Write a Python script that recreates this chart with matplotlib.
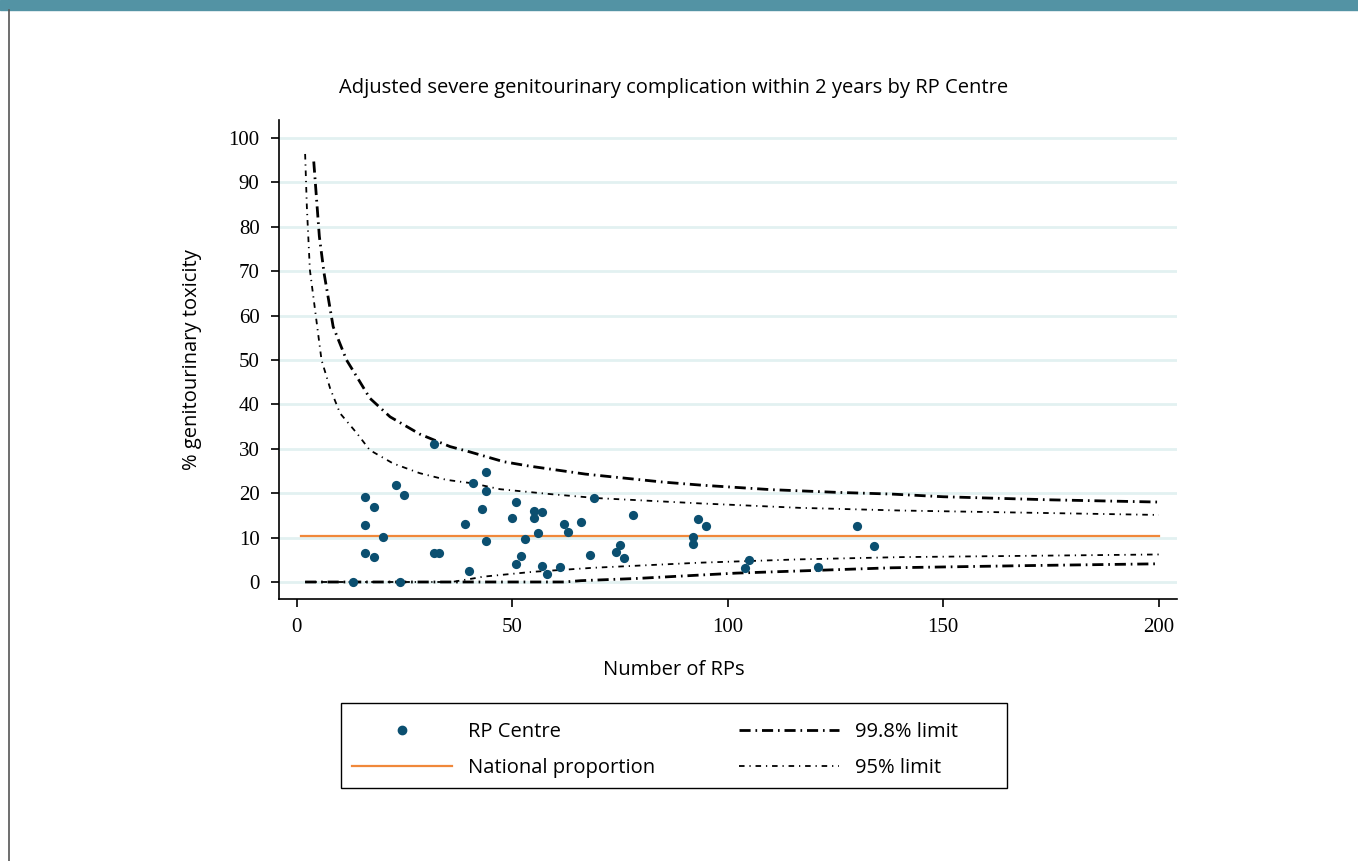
"""
Funnel plot of severe genitourinary complications by RP centre.
"""

import matplotlib.pyplot as plt
from matplotlib.lines import Line2D
from matplotlib.patches import Rectangle

# RP centres: number of RPs and adjusted % toxicity
centre_n = [13, 16, 18, 16, 20, 16, 18, 23, 25, 24, 32, 32, 33, 39, 40, 41, 43,
            44, 44, 44, 51, 50, 55, 57, 55, 56, 53, 62, 63, 66, 69, 52, 51, 57,
            58, 61, 68, 78, 93, 95, 92, 92, 75, 74, 76, 130, 134, 105, 104, 121]
centre_pct = [0, 19.1, 17.0, 12.8, 10.1, 6.5, 5.6, 21.8, 19.6, 0, 31.0, 6.5, 6.5,
              13.0, 2.5, 22.2, 16.4, 24.8, 20.5, 9.3, 18.1, 14.5, 16.1, 15.7,
              14.4, 11.0, 9.7, 13.0, 11.2, 13.4, 19.0, 5.9, 4.0, 3.6, 1.8, 3.4,
              6.1, 15.2, 14.3, 12.7, 10.2, 8.6, 8.3, 6.8, 5.3, 12.6, 8.2, 5.0,
              3.1, 3.4]

national_n = [1, 200]
national_pct = [10.4, 10.4]

# control limits
upper998_n = [4, 5.3, 6.4, 8.5, 11.6, 14, 17, 21.7, 28.6, 35.6, 40.2, 48, 54, 67,
              73, 85, 94, 110, 125, 138, 150, 175, 200]
upper998 = [94.7, 77.8, 69.5, 57.5, 50, 46.2, 41.4, 37.2, 33.3, 30.5, 29.3, 27.1,
            26.1, 24.3, 23.7, 22.5, 21.8, 20.8, 20.2, 19.8, 19.2, 18.5, 18.0]
upper95_n = [2, 2.4, 3.1, 4.3, 5.8, 7.8, 10.1, 14, 17, 22.4, 28.6, 34.8, 41,
             47.2, 58.8, 69.6, 93.6, 116.7, 139.9, 170, 200]
upper95 = [96.4, 84.5, 70.3, 61.3, 50, 43.6, 38, 33.5, 29.7, 26.7, 24.5, 23.0,
           22.2, 20.9, 19.8, 18.9, 17.7, 16.7, 16.1, 15.6, 15.1]
lower95_n = [2, 36, 41, 43.3, 54.9, 68.8, 93.6, 116.7, 139.9, 170, 200]
lower95 = [0, 0, 0.8, 1.2, 2.3, 3.2, 4.35, 5.1, 5.6, 5.9, 6.2]
lower998_n = [2, 62, 66, 79, 102, 117, 138, 170, 200]
lower998 = [0, 0, 0.3, 0.8, 2.0, 2.5, 3.2, 3.7, 4.1]

x_ticks = [0, 50, 100, 150, 200]
y_ticks = [0, 10, 20, 30, 40, 50, 60, 70, 80, 90, 100]

dot_color = "#0b4f70"
orange = "#f0883a"
grid_color = "#e2f1f1"
sans = "Open Sans"
serif = "Liberation Serif"
fs = 14.5

dash998 = (8, 3.5, 1.2, 3.5)
dash95 = (4, 3.5, 0.9, 3.5)

plt.rcParams["lines.scale_dashes"] = False

fig = plt.figure(figsize=(13.58, 8.61), dpi=100)

# page decorations
fig.patches.append(Rectangle((0, 1 - 10 / 861), 1, 10 / 861, transform=fig.transFigure,
                             color="#5393a4", zorder=0))
fig.lines.append(Line2D([9 / 1358, 9 / 1358], [0, 1 - 10 / 861], transform=fig.transFigure,
                        color="#555555", lw=1.2))

ax = fig.add_axes([279 / 1358, 1 - 599 / 861, 898 / 1358, 479 / 861])
ax.set_xlim(-4.06, 204.2)
ax.set_ylim(-3.83, 104.05)

for y in y_ticks:
    ax.axhline(y, color=grid_color, lw=2, zorder=0)

ax.plot(upper998_n, upper998, color="black", lw=2.0, dashes=dash998)
ax.plot(lower998_n, lower998, color="black", lw=2.0, dashes=dash998)
ax.plot(upper95_n, upper95, color="black", lw=1.3, dashes=dash95)
ax.plot(lower95_n, lower95, color="black", lw=1.3, dashes=dash95)
ax.plot(national_n, national_pct, color=orange, lw=1.6, zorder=3)
ax.scatter(centre_n, centre_pct, s=44, color=dot_color, zorder=4, linewidths=0)

for side in ["top", "right"]:
    ax.spines[side].set_visible(False)
for side in ["left", "bottom"]:
    ax.spines[side].set_linewidth(1.2)

ax.set_xticks(x_ticks)
ax.set_yticks(y_ticks)
ax.tick_params(length=6, width=1.2, pad=8, labelsize=15)
for lab in ax.get_xticklabels() + ax.get_yticklabels():
    lab.set_fontfamily(serif)

fig.text(674 / 1358, 1 - 88 / 861, "Adjusted severe genitourinary complication within 2 years by RP Centre",
         ha="center", va="center", fontsize=fs, family=sans)
fig.text(674 / 1358, 1 - 670 / 861, "Number of RPs", ha="center", va="center",
         fontsize=fs, family=sans)
fig.text(192 / 1358, 1 - 360 / 861, "% genitourinary toxicity", ha="center", va="center",
         rotation=90, fontsize=fs, family=sans)

# legend box
fig.patches.append(Rectangle((341 / 1358, 1 - 788 / 861), 666 / 1358, 85 / 861,
                             transform=fig.transFigure, facecolor="white",
                             edgecolor="black", lw=1.0))

handles = [
    Line2D([], [], ls="none", marker="o", ms=6, color=dot_color),
    Line2D([], [], color=orange, lw=1.6),
    Line2D([], [], color="black", lw=2.0, dashes=dash998),
    Line2D([], [], color="black", lw=1.3, dashes=dash95),
]
labels = ["RP Centre", "National proportion", "99.8% limit", "95% limit"]
px = fs * 100 / 72
leg = fig.legend(handles, labels, ncol=2, loc="center left",
                 bbox_to_anchor=(352 / 1358, 1 - 750 / 861),
                 frameon=False, prop={"family": sans, "size": fs},
                 handlelength=100 / px, handletextpad=16 / px,
                 labelspacing=0.8, borderaxespad=0, borderpad=0,
                 columnspacing=84 / px)

fig.savefig("out.png")
